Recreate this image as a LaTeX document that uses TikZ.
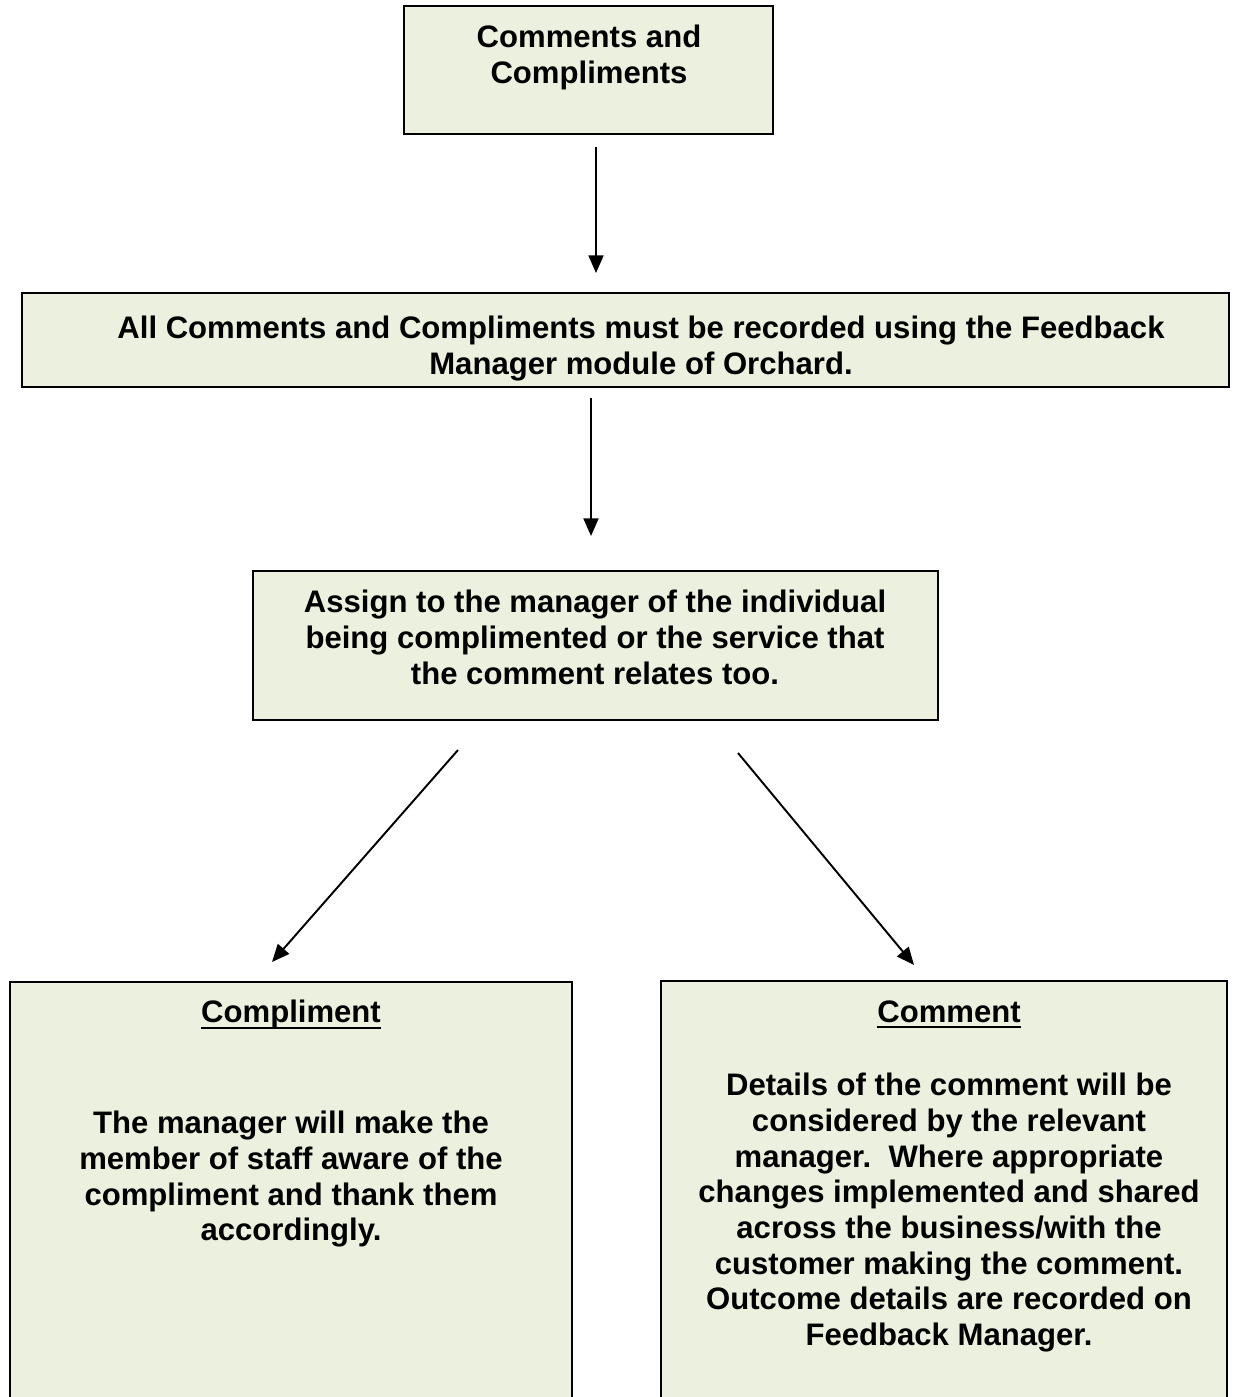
\documentclass[tikz,border=0pt]{standalone}
\usepackage{fontspec}
\setmainfont{Liberation Sans}
\usetikzlibrary{arrows.meta,fit}
\definecolor{boxfill}{RGB}{235,241,222}
\newcommand\headline[1]{\setbox0\hbox{#1}\usebox0\llap{\rule[-3.6pt]{\wd0}{1.5pt}}}
\tikzset{
  box/.style={draw, line width=1.2pt, fill=boxfill, inner sep=0pt},
  txt/.style={anchor=north, align=center, inner sep=0pt, font=\fontsize{17.7pt}{20.3pt}\selectfont\bfseries},
  flow/.style={line width=1.1pt, -{Triangle[length=10pt,width=8.5pt]}}
}
\begin{document}
\begin{tikzpicture}[x=0.02cm, y=-0.02cm]
    \useasboundingbox (0,0) rectangle (1237,1397);
    \clip (0,0) rectangle (1237,1397);
    % boxes
    \node[box, fit={(404,6) (773,134)}] (start) {};
    \node[box, fit={(22,293) (1229,387)}] (record) {};
    \node[box, fit={(253,571) (938,720)}] (assign) {};
    \node[box, fit={(10,982) (572,1420)}] (compl) {};
    \node[box, fit={(661,981) (1227,1420)}] (comm) {};
    % texts
    \node[txt] (start-t) at (589,25) {Comments and\\Compliments};
    \node[txt] (record-t) at (641,316) {All Comments and Compliments must be recorded using the Feedback\\Manager module of Orchard.};
    \node[txt] (assign-t) at (595,590) {Assign to the manager of the individual\\being complimented or the service that\\the comment relates too.};
    \node[txt] (compl-h) at (291,1000) {\headline{Compliment}};
    \node[txt] (compl-t) at (291,1111) {The manager will make the\\member of staff aware of the\\compliment and thank them\\accordingly.};
    \node[txt] (comm-h) at (949,1000) {\headline{Comment}};
    \node[txt] (comm-t) at (949,1073) {Details of the comment will be\\considered by the relevant\\manager.\ \ Where appropriate\\changes implemented and shared\\across the business/with the\\customer making the comment.\\Outcome details are recorded on\\Feedback Manager.};
    % arrows
    \coordinate (a1) at (596,147); \coordinate (b1) at (596,273);
    \coordinate (a2) at (591,398); \coordinate (b2) at (591,536);
    \coordinate (a3) at (458,750); \coordinate (b3) at (272,962);
    \coordinate (a4) at (738,753); \coordinate (b4) at (914,965);
    \foreach \i in {1,...,4} \draw[flow] (a\i) -- (b\i);
\end{tikzpicture}
\end{document}
